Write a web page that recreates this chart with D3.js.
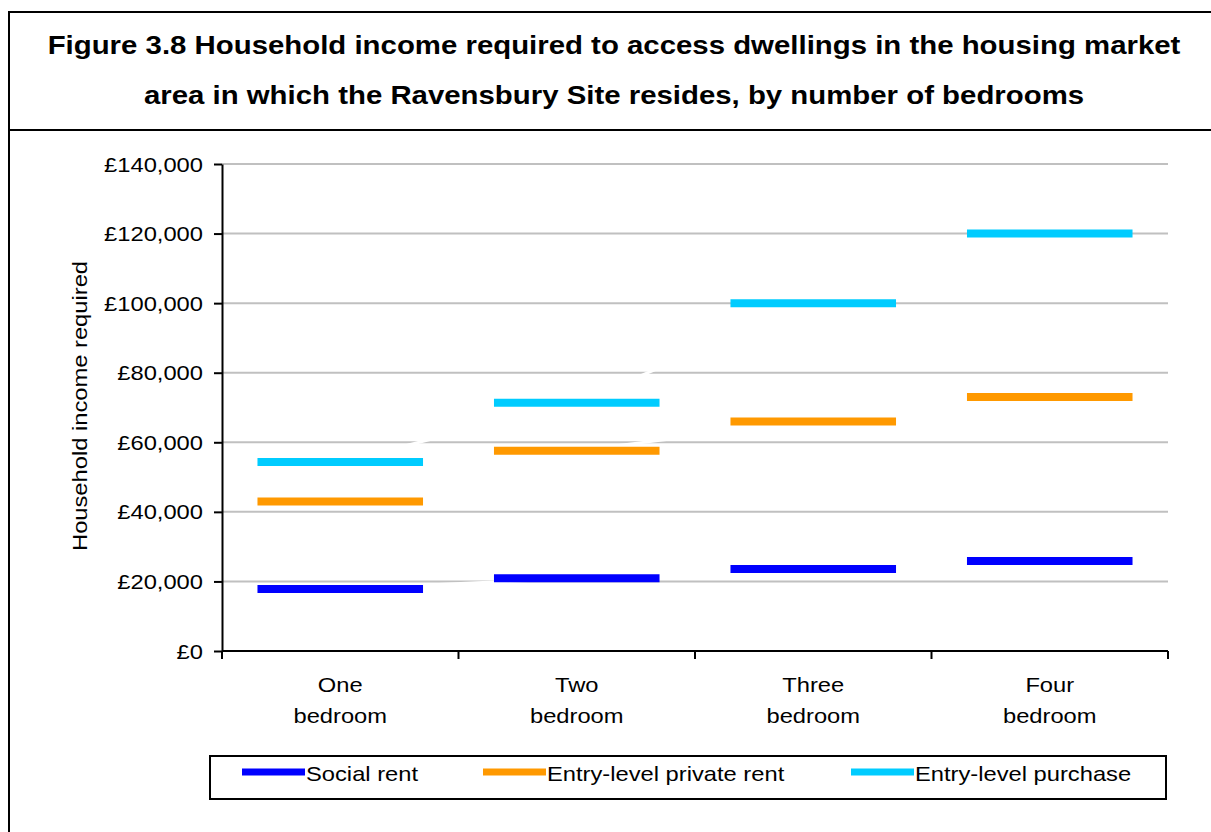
<!DOCTYPE html>
<html>
<head>
<meta charset="utf-8">
<script src="https://cdn.jsdelivr.net/npm/d3@7.9.0/dist/d3.min.js"></script>
<style>
  html, body { margin: 0; padding: 0; background: #fff; }
  svg { display: block; }
  text { font-family: "Liberation Sans", Arial, sans-serif; fill: #000; }
</style>
</head>
<body>
<svg width="1211" height="832"></svg>
<script>
const categories = ['One bedroom', 'Two bedroom', 'Three bedroom', 'Four bedroom'];
const seriesNames = ['Social rent', 'Entry-level private rent', 'Entry-level purchase'];
const socialRent = [17800, 20900, 23600, 25900];
const privateRent = [43000, 57600, 66000, 73000];
const purchase = [54300, 71400, 100000, 120000];
const yTicks = [0, 20000, 40000, 60000, 80000, 100000, 120000, 140000];
const titleLines = [
    'Figure 3.8 Household income required to access dwellings in the housing market',
    'area in which the Ravensbury Site resides, by number of bedrooms'
];

const colors = ['#0000ff', '#ff9900', '#00ccff'];
const allSeries = [socialRent, privateRent, purchase];
const sx = 1.13; // the source text is a little wide

const svg = d3.select('svg');

// put text at x,y with a horizontal stretch
function label(g, x, y, str, size, anchor, weight) {
    return g.append('text')
        .attr('transform', `translate(${x},${y}) scale(${sx},1)`)
        .attr('text-anchor', anchor || 'start')
        .attr('font-size', size)
        .attr('font-weight', weight || 'normal')
        .text(str);
}

// frame and title box
svg.append('path')
    .attr('d', 'M9,832 V12 H1215 M9,130 H1215')
    .attr('fill', 'none')
    .attr('stroke', '#000')
    .attr('stroke-width', 2);

titleLines.forEach((t, i) => {
    label(svg, 614, 54 + i * 50, t, 26, 'middle', 'bold');
});

const x = d3.scaleBand().domain(categories).range([222, 1168]);
const y = d3.scaleLinear().domain([0, 140000]).range([651, 164]);

// gridlines
svg.append('g')
    .selectAll('line')
    .data(yTicks.slice(1))
    .join('line')
    .attr('x1', 222).attr('x2', 1168)
    .attr('y1', d => y(d)).attr('y2', d => y(d))
    .attr('stroke', '#c0c0c0')
    .attr('stroke-width', 2);

// y axis
const yAxis = svg.append('g')
    .attr('transform', 'translate(222,0)')
    .call(d3.axisLeft(y).tickValues(yTicks).tickSize(8).tickSizeOuter(0).tickFormat(() => ''));
yAxis.select('.domain').attr('stroke', '#000').attr('stroke-width', 2);
yAxis.selectAll('.tick line').attr('stroke', '#000').attr('stroke-width', 2);

const fmt = d3.format(',');
yTicks.forEach(v => {
    label(svg, 203, y(v) + 7.5, '£' + fmt(v), 21, 'end');
});

svg.append('text')
    .attr('transform', `translate(87,406) rotate(-90) scale(${sx},1)`)
    .attr('text-anchor', 'middle')
    .attr('font-size', 21)
    .text('Household income required');

// x axis with ticks on the category boundaries
const bounds = categories.map(c => x(c)).concat([x.range()[1]]);
svg.append('line')
    .attr('x1', 222).attr('x2', 1168)
    .attr('y1', y(0)).attr('y2', y(0))
    .attr('stroke', '#000').attr('stroke-width', 2);
svg.append('g')
    .selectAll('line')
    .data(bounds)
    .join('line')
    .attr('x1', d => d).attr('x2', d => d)
    .attr('y1', y(0)).attr('y2', y(0) + 8)
    .attr('stroke', '#000').attr('stroke-width', 2);

const cx = c => x(c) + x.bandwidth() / 2;
categories.forEach(c => {
    c.split(' ').forEach((w, i) => {
        label(svg, cx(c), 692 + i * 31, w, 21, 'middle');
    });
});

// white connecting lines, then the dash markers
const line = d3.line().x((d, i) => cx(categories[i])).y(d => y(d));
allSeries.forEach(s => {
    svg.append('path')
        .attr('d', line(s))
        .attr('fill', 'none')
        .attr('stroke', '#fff')
        .attr('stroke-width', 3);
});

const half = x.bandwidth() * 0.35;
allSeries.forEach((s, si) => {
    svg.append('g')
        .selectAll('line')
        .data(s)
        .join('line')
        .attr('x1', (d, i) => cx(categories[i]) - half)
        .attr('x2', (d, i) => cx(categories[i]) + half)
        .attr('y1', d => y(d)).attr('y2', d => y(d))
        .attr('stroke', colors[si])
        .attr('stroke-width', 8);
});

// legend
const legend = svg.append('g');
legend.append('rect')
    .attr('x', 210).attr('y', 756)
    .attr('width', 956).attr('height', 43)
    .attr('fill', '#fff')
    .attr('stroke', '#000')
    .attr('stroke-width', 2);

const legendX = [242, 483, 851];
seriesNames.forEach((name, i) => {
    legend.append('line')
        .attr('x1', legendX[i]).attr('x2', legendX[i] + 63)
        .attr('y1', 772).attr('y2', 772)
        .attr('stroke', colors[i])
        .attr('stroke-width', 7);
    label(legend, legendX[i] + 64, 781, name, 21, 'start');
});
</script>
</body>
</html>
